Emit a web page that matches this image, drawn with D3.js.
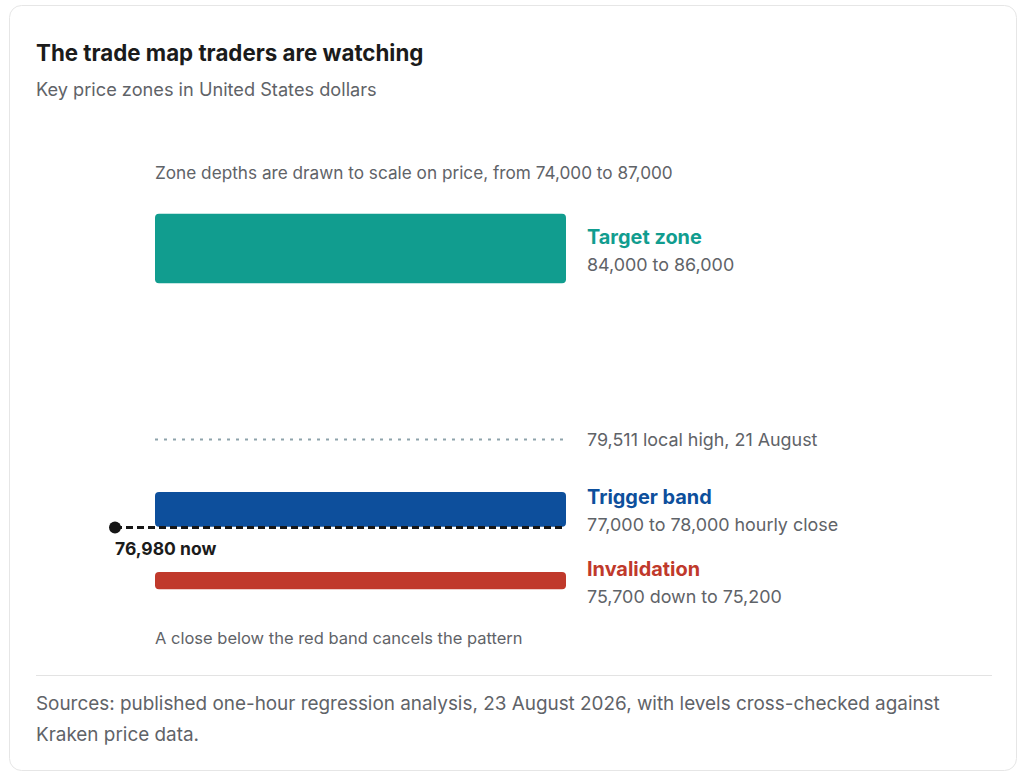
<!DOCTYPE html>
<html>
<head>
<meta charset="utf-8">
<script src="https://cdn.jsdelivr.net/npm/d3@7"></script>
<style>
  body { margin: 0; background: #fff; font-family: Inter, "Noto Sans", sans-serif; }
  svg text { font-family: Inter, "Noto Sans", sans-serif; }
</style>
</head>
<body>
<svg id="chart"></svg>
<script>
// price zones, in US dollars
const zoneNames = ["Target zone", "Trigger band", "Invalidation"];
const zoneLow = [84000, 77000, 75200];
const zoneHigh = [86000, 78000, 75700];
const zoneLabels = ["84,000 to 86,000", "77,000 to 78,000 hourly close", "75,700 down to 75,200"];
const zoneColors = ["#119d8f", "#0d4f9c", "#c0392b"];

const localHigh = 79511;
const localHighLabel = "79,511 local high, 21 August";
const nowPrice = 76980;
const nowLabel = "76,980 now";
const priceDomain = [74000, 87000];

const width = 1024;
const height = 778;
const margin = { top: 179, bottom: 147, left: 155, right: 458 };

const svg = d3.select("#chart").attr("width", width).attr("height", height);

// card
svg.append("rect")
  .attr("x", 9.5).attr("y", 5.5)
  .attr("width", 1007).attr("height", 765)
  .attr("rx", 12)
  .attr("fill", "#fff")
  .attr("stroke", "#e6e6e6");

svg.append("text")
  .attr("x", 36).attr("y", 61)
  .attr("font-size", 22.3).attr("font-weight", 700)
  .attr("fill", "#1b1b1b")
  .text("The trade map traders are watching");

svg.append("text")
  .attr("x", 36).attr("y", 96)
  .attr("font-size", 18.2)
  .attr("fill", "#5f6368")
  .text("Key price zones in United States dollars");

const y = d3.scaleLinear()
  .domain(priceDomain)
  .range([height - margin.bottom, margin.top]);

const x = d3.scaleLinear()
  .domain([0, 1])
  .range([margin.left, width - margin.right]);

svg.append("text")
  .attr("x", x(0)).attr("y", 179)
  .attr("font-size", 17.2)
  .attr("fill", "#5f6368")
  .text("Zone depths are drawn to scale on price, from 74,000 to 87,000");

const zones = zoneNames.map((name, i) => ({
  name,
  low: zoneLow[i],
  high: zoneHigh[i],
  label: zoneLabels[i],
  color: zoneColors[i],
}));

// local high reference
svg.append("line")
  .attr("x1", x(0)).attr("x2", x(1))
  .attr("y1", y(localHigh)).attr("y2", y(localHigh))
  .attr("stroke", "#8ea3ab")
  .attr("stroke-width", 2)
  .attr("stroke-dasharray", "3,6");

svg.append("text")
  .attr("x", x(1) + 21).attr("y", y(localHigh))
  .attr("dy", "0.35em")
  .attr("font-size", 17.9)
  .attr("fill", "#5f6368")
  .text(localHighLabel);

// zone bars
svg.selectAll(".zoneBar")
  .data(zones)
  .join("rect")
  .attr("class", "zoneBar")
  .attr("x", x(0))
  .attr("y", (d) => y(d.high))
  .attr("width", x(1) - x(0))
  .attr("height", (d) => y(d.low) - y(d.high))
  .attr("rx", 4)
  .attr("fill", (d) => d.color);

svg.selectAll(".zoneName")
  .data(zones)
  .join("text")
  .attr("class", "zoneName")
  .attr("x", x(1) + 21)
  .attr("y", (d) => (y(d.low) + y(d.high)) / 2 - 5)
  .attr("font-size", 19.9).attr("font-weight", 700)
  .attr("fill", (d) => d.color)
  .text((d) => d.name);

svg.selectAll(".zoneRange")
  .data(zones)
  .join("text")
  .attr("class", "zoneRange")
  .attr("x", x(1) + 21)
  .attr("y", (d) => (y(d.low) + y(d.high)) / 2 + 22)
  .attr("font-size", 17.9)
  .attr("fill", "#5f6368")
  .text((d) => d.label);

// current price marker
svg.append("line")
  .attr("x1", 115).attr("x2", x(1))
  .attr("y1", y(nowPrice)).attr("y2", y(nowPrice))
  .attr("stroke", "#161616")
  .attr("stroke-width", 3)
  .attr("stroke-dasharray", "7,4");

svg.append("circle")
  .attr("cx", 115).attr("cy", y(nowPrice))
  .attr("r", 6)
  .attr("fill", "#161616");

svg.append("text")
  .attr("x", 115).attr("y", y(nowPrice) + 28)
  .attr("font-size", 17.5).attr("font-weight", 700)
  .attr("fill", "#1b1b1b")
  .text(nowLabel);

svg.append("text")
  .attr("x", x(0)).attr("y", 644)
  .attr("font-size", 16.5)
  .attr("fill", "#5f6368")
  .text("A close below the red band cancels the pattern");

// footer
svg.append("line")
  .attr("x1", 36).attr("x2", 992)
  .attr("y1", 675.5).attr("y2", 675.5)
  .attr("stroke", "#e3e3e3");

const sources = svg.append("text")
  .attr("font-size", 18.9)
  .attr("fill", "#5f6368");
sources.append("tspan").attr("x", 36).attr("y", 710)
  .text("Sources: published one-hour regression analysis, 23 August 2026, with levels cross-checked against");
sources.append("tspan").attr("x", 36).attr("y", 741)
  .text("Kraken price data.");
</script>
</body>
</html>
